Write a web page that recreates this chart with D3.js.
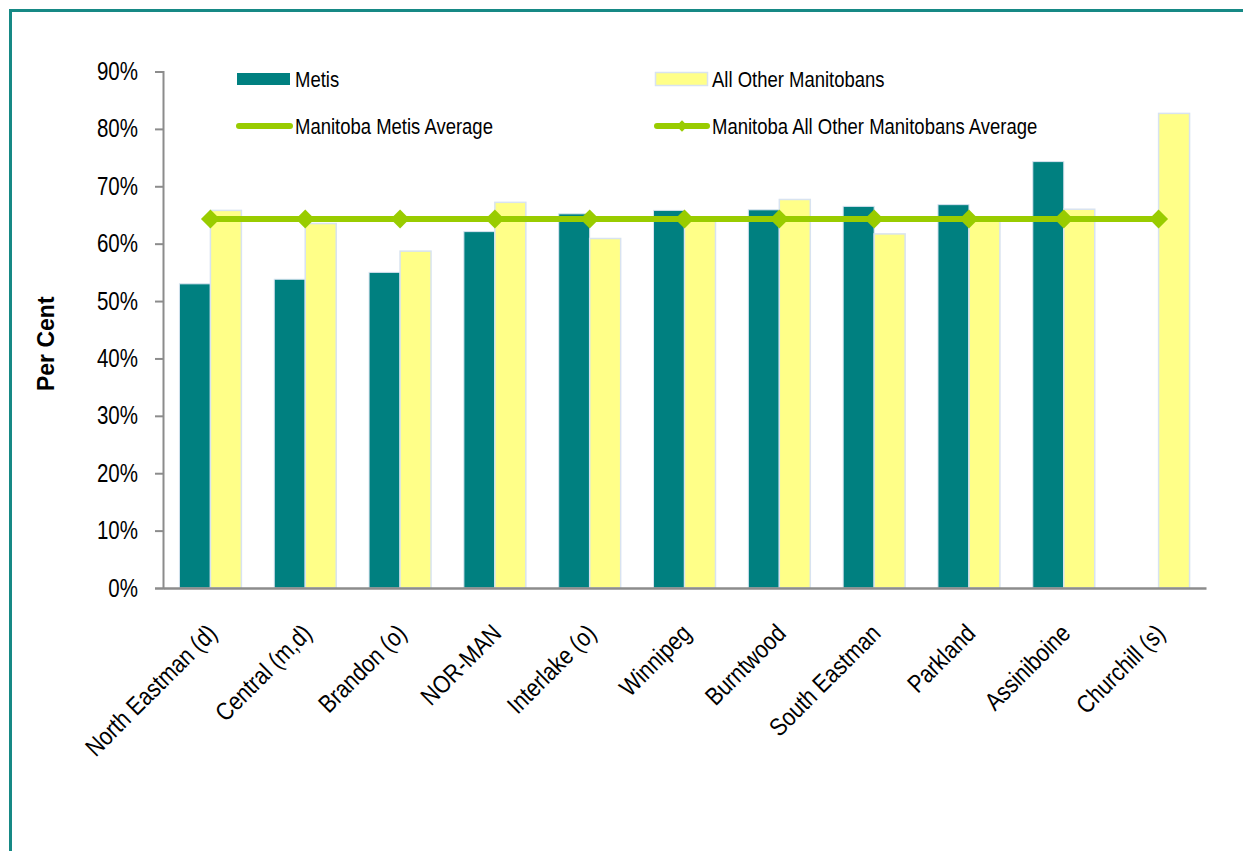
<!DOCTYPE html>
<html>
<head>
<meta charset="utf-8">
<script src="https://cdn.jsdelivr.net/npm/d3@7"></script>
<style>
  html, body { margin: 0; padding: 0; background: #fff; }
  svg { display: block; }
  text { font-family: "Liberation Sans", Arial, sans-serif; }
</style>
</head>
<body>
<svg id="chart" width="1243" height="851"></svg>
<script>
// Regions (RHAs) along the category axis
const regions = ["North Eastman (d)", "Central (m,d)", "Brandon (o)", "NOR-MAN", "Interlake (o)",
                 "Winnipeg", "Burntwood", "South Eastman", "Parkland", "Assiniboine", "Churchill (s)"];
// Per cent values by region
const metis = [53.0, 53.8, 55.0, 62.1, 65.2, 65.8, 65.9, 66.5, 66.8, 74.3, null];
const allOther = [65.8, 63.5, 58.7, 67.2, 60.9, 64.0, 67.7, 61.7, 64.0, 66.0, 82.7];
// Provincial averages
const metisAverage = 64.3;
const allOtherAverage = 64.3;
// Value-axis ticks
const yTicks = [0, 10, 20, 30, 40, 50, 60, 70, 80, 90];

const seriesNames = ["Metis", "All Other Manitobans"];
const colors = { metis: "#008080", other: "#FFFF88", line: "#99CC00", outline: "#D8E3F0", axis: "#8C8C8C", frame: "#168985" };

// Condense text horizontally (narrow face look)
function condense(sel, factor) {
  sel.each(function () {
    const len = this.getComputedTextLength();
    d3.select(this).attr("textLength", len * factor).attr("lengthAdjust", "spacingAndGlyphs");
  });
}

const svg = d3.select("#chart");

// Outer frame
svg.append("rect")
  .attr("x", 10.5).attr("y", 10.5)
  .attr("width", 1400).attr("height", 1000)
  .attr("fill", "none").attr("stroke", colors.frame).attr("stroke-width", 3);

const plot = { left: 163, right: 1206, top: 71.5, bottom: 588 };

const x = d3.scaleBand().domain(regions).range([plot.left, plot.right]).padding(0);
const inner = d3.scaleBand().domain(["metis", "other"]).range([0, x.bandwidth()]).paddingInner(0).paddingOuter(0.53);
const y = d3.scaleLinear().domain([0, 90]).range([plot.bottom, plot.top]);

const rows = regions.map((r, i) => ({ region: r, metis: metis[i], other: allOther[i] }));

// Bars
const groups = svg.append("g").selectAll("g").data(rows).join("g")
  .attr("transform", d => `translate(${x(d.region)},0)`);

groups.filter(d => d.metis != null).append("rect")
  .attr("x", inner("metis")).attr("width", inner.bandwidth())
  .attr("y", d => y(d.metis)).attr("height", d => y(0) - y(d.metis))
  .attr("fill", colors.metis).attr("stroke", colors.outline).attr("stroke-width", 1);

groups.append("rect")
  .attr("x", inner("other")).attr("width", inner.bandwidth())
  .attr("y", d => y(d.other)).attr("height", d => y(0) - y(d.other))
  .attr("fill", colors.other).attr("stroke", colors.outline).attr("stroke-width", 1.5);

// Y axis
const yAxis = d3.axisLeft(y).tickValues(yTicks).tickFormat(d => d + "%").tickSize(8).tickPadding(17);
const gy = svg.append("g").attr("transform", `translate(${plot.left},0)`).call(yAxis);
gy.select(".domain").attr("stroke", colors.axis).attr("stroke-width", 2);
gy.selectAll(".tick line").attr("stroke", colors.axis).attr("stroke-width", 2);
gy.selectAll(".tick text").attr("font-family", null).attr("font-size", 25).attr("fill", "#000")
  .call(condense, 0.82);

// X axis
const xAxis = d3.axisBottom(x).tickSize(0).tickPadding(0);
const gx = svg.append("g").attr("transform", `translate(0,${plot.bottom})`).call(xAxis);
gx.select(".domain").attr("stroke", colors.axis).attr("stroke-width", 2.5);
gx.selectAll(".tick text")
  .attr("font-size", 25).attr("fill", "#000")
  .attr("text-anchor", "end")
  .attr("dy", 0)
  .attr("transform", "translate(8,47) rotate(-45)")
  .call(condense, 0.85);
svg.selectAll("g").attr("font-family", null);

// Axis title
svg.append("text")
  .attr("transform", `translate(54,${(plot.top + plot.bottom) / 2 + 14}) rotate(-90)`)
  .attr("text-anchor", "middle")
  .attr("font-weight", "bold").attr("font-size", 23)
  .text("Per Cent");

// Average lines
const line = d3.line().x(d => x(d) + x.bandwidth() / 2);

svg.append("path")
  .datum(regions)
  .attr("d", line.y(() => y(metisAverage)))
  .attr("fill", "none").attr("stroke", colors.line).attr("stroke-width", 6);

svg.append("path")
  .datum(regions)
  .attr("d", line.y(() => y(allOtherAverage)))
  .attr("fill", "none").attr("stroke", colors.line).attr("stroke-width", 6);

svg.append("g").selectAll("rect").data(regions).join("rect")
  .attr("x", -6.7).attr("y", -6.7).attr("width", 13.4).attr("height", 13.4)
  .attr("transform", d => `translate(${x(d) + x.bandwidth() / 2},${y(allOtherAverage)}) rotate(45)`)
  .attr("fill", colors.line);

// Legend
const legend = svg.append("g").attr("font-size", 22);

legend.append("rect").attr("x", 237).attr("y", 73).attr("width", 53).attr("height", 12).attr("fill", colors.metis);
legend.append("text").attr("x", 295).attr("y", 79).attr("dy", "0.35em").text(seriesNames[0]);

legend.append("rect").attr("x", 655.5).attr("y", 72.5).attr("width", 52).attr("height", 13)
  .attr("fill", colors.other).attr("stroke", colors.outline).attr("stroke-width", 1.5);
legend.append("text").attr("x", 712).attr("y", 79).attr("dy", "0.35em").text(seriesNames[1]);

legend.append("line").attr("x1", 239).attr("x2", 290).attr("y1", 126).attr("y2", 126)
  .attr("stroke", colors.line).attr("stroke-width", 6).attr("stroke-linecap", "round");
legend.append("text").attr("x", 295).attr("y", 126).attr("dy", "0.35em").text("Manitoba Metis Average");

legend.append("line").attr("x1", 657).attr("x2", 707).attr("y1", 126).attr("y2", 126)
  .attr("stroke", colors.line).attr("stroke-width", 6).attr("stroke-linecap", "round");
legend.append("rect").attr("x", -4).attr("y", -4).attr("width", 8).attr("height", 8)
  .attr("transform", "translate(682,126) rotate(45)").attr("fill", colors.line);
legend.append("text").attr("x", 712).attr("y", 126).attr("dy", "0.35em").text("Manitoba All Other Manitobans Average");

legend.selectAll("text").call(condense, 0.84);
</script>
</body>
</html>
